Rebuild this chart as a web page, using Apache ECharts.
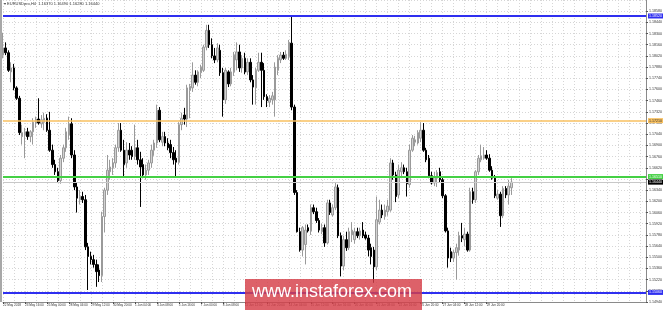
<!DOCTYPE html>
<html><head><meta charset="utf-8">
<script src="https://cdn.jsdelivr.net/npm/echarts@6/dist/echarts.min.js"></script>
<style>html,body{margin:0;padding:0;background:#fff}#c{width:665px;height:310px}</style>
</head><body><div id="c"></div>
<script>
const symbol = 'EURUSDpro,H4';
const tickLabels = ['22 May 2018','23 May 16:00','25 May 00:00','28 May 04:00','29 May 12:00','30 May 20:00','1 Jun 04:00','4 Jun 08:00','5 Jun 16:00','7 Jun 00:00','8 Jun 08:00','11 Jun 12:00','12 Jun 20:00','14 Jun 04:00','15 Jun 12:00','18 Jun 16:00','20 Jun 00:00','21 Jun 08:00','22 Jun 16:00','25 Jun 20:00','27 Jun 04:00','28 Jun 12:00','29 Jun 20:00','3 Jul 00:00'];
const totalSlots = 235;

const open = [
1.1803,1.1812,1.1806,1.1782,1.1787,1.1762,1.1749,1.1701,1.1703,1.1707,
1.1701,1.1707,1.1718,1.1723,1.1717,1.1719,1.1724,1.1709,1.1684,1.1666,
1.1657,1.1646,1.1674,1.1687,1.1703,1.1717,1.1678,1.1638,1.1622,1.1626,
1.1622,1.1563,1.1551,1.1547,1.1541,1.1534,1.1527,1.1601,1.1634,1.1657,
1.1662,1.1668,1.1687,1.1709,1.1684,1.1668,1.1684,1.1684,1.1676,1.1687,
1.1672,1.1666,1.1653,1.1659,1.1668,1.1684,1.1693,1.1734,1.1694,1.1701,
1.1693,1.1691,1.1681,1.1674,1.1669,1.1716,1.1728,1.1723,1.1759,1.1762,
1.1778,1.1769,1.1781,1.1784,1.1813,1.1834,1.1816,1.1802,1.1797,1.1809,
1.1781,1.1747,1.1782,1.1767,1.1782,1.1797,1.1807,1.1787,1.1799,1.1782,
1.1794,1.1772,1.1762,1.1784,1.1794,1.1784,1.1751,1.1744,1.1747,1.1747,
1.1784,1.1797,1.1803,1.1799,1.1801,1.1818,1.1738,1.1631,1.1582,1.1559,
1.1566,1.1587,1.1583,1.1612,1.1607,1.1596,1.1582,1.1587,1.1568,1.1618,
1.1603,1.1612,1.1637,1.1577,1.1539,1.1572,1.1562,1.1578,1.1572,1.1582,
1.1577,1.1584,1.1578,1.1574,1.1562,1.1559,1.1538,1.1594,1.1609,1.1601,
1.1607,1.1609,1.1668,1.1653,1.1628,1.1657,1.1662,1.1657,1.1641,1.1684,
1.1694,1.1693,1.1699,1.1709,1.1684,1.1674,1.1652,1.1643,1.1649,1.1657,
1.1647,1.1627,1.1583,1.1557,1.1549,1.1556,1.1559,1.1577,1.1572,1.1579,
1.1559,1.1632,1.1622,1.1657,1.1672,1.1674,1.1678,1.1674,1.1659,1.1649,
1.1624,1.1629,1.1602,1.1636,1.1628,1.1637];
const close = [
1.1812,1.1806,1.1784,1.1787,1.1762,1.1749,1.1706,1.1706,1.1707,1.1701,
1.1707,1.1719,1.1723,1.1718,1.1722,1.1724,1.1709,1.1684,1.1666,1.1657,
1.1646,1.1674,1.1687,1.1707,1.1717,1.1678,1.1638,1.1624,1.1626,1.1622,
1.1563,1.1551,1.1547,1.1541,1.1532,1.1527,1.1601,1.1634,1.1659,1.1663,
1.1668,1.1687,1.1709,1.1684,1.1666,1.1684,1.1678,1.1676,1.1687,1.1672,
1.1663,1.1653,1.1659,1.1668,1.1684,1.1693,1.1734,1.1697,1.1701,1.1693,
1.1687,1.1681,1.1672,1.1669,1.1716,1.1724,1.1723,1.1762,1.1764,1.1778,
1.1769,1.1782,1.1788,1.1813,1.1834,1.1816,1.1802,1.1797,1.1812,1.1781,
1.1747,1.1784,1.1767,1.1782,1.1803,1.1807,1.1787,1.1799,1.1782,1.1794,
1.1772,1.1763,1.1784,1.1794,1.1784,1.1751,1.1746,1.1749,1.1752,1.1788,
1.1799,1.1803,1.1799,1.1804,1.1819,1.1738,1.1631,1.1582,1.1559,1.1587,
1.1584,1.1583,1.1612,1.1607,1.1596,1.1584,1.1587,1.1568,1.1618,1.1606,
1.1612,1.1638,1.1577,1.1539,1.1572,1.1562,1.1582,1.1584,1.1582,1.1577,
1.1583,1.1577,1.1574,1.1559,1.1551,1.1538,1.1597,1.1609,1.1603,1.1609,
1.1614,1.1668,1.1653,1.1626,1.1659,1.1662,1.1657,1.1642,1.1684,1.1699,
1.1697,1.1706,1.1709,1.1684,1.1672,1.1652,1.1643,1.1651,1.1656,1.1647,
1.1627,1.1583,1.1549,1.1549,1.1556,1.1562,1.1577,1.1574,1.1579,1.1559,
1.1632,1.1622,1.1657,1.1674,1.1677,1.1678,1.1674,1.1659,1.1649,1.1627,
1.1629,1.1602,1.1636,1.1628,1.1639,1.1644];
const low = [
1.1799,1.1803,1.1782,1.1769,1.1759,1.1747,1.1703,1.1691,1.1674,1.1697,
1.1694,1.1691,1.1712,1.1716,1.1712,1.1709,1.1707,1.1682,1.1662,1.1653,
1.1643,1.1642,1.1669,1.1682,1.1697,1.1674,1.1634,1.1606,1.1616,1.1618,
1.1559,1.1509,1.1541,1.1537,1.1513,1.1519,1.1519,1.1581,1.1628,1.1647,
1.1653,1.1662,1.1682,1.1682,1.1651,1.1662,1.1672,1.1672,1.1672,1.1666,
1.1613,1.1649,1.1647,1.1653,1.1662,1.1677,1.1687,1.1694,1.1689,1.1689,
1.1684,1.1674,1.1666,1.1651,1.1666,1.1709,1.1716,1.1713,1.1724,1.1757,
1.1766,1.1764,1.1774,1.1782,1.1809,1.1812,1.1799,1.1793,1.1794,1.1777,
1.1726,1.1742,1.1763,1.1764,1.1777,1.1784,1.1782,1.1781,1.1779,1.1778,
1.1769,1.1741,1.1741,1.1782,1.1738,1.1747,1.1738,1.1738,1.1741,1.1726,
1.1778,1.1793,1.1797,1.1797,1.1797,1.1734,1.1628,1.1581,1.1557,1.1551,
1.1541,1.1581,1.1578,1.1604,1.1593,1.1581,1.1579,1.1563,1.1566,1.1603,
1.1601,1.1609,1.1574,1.1526,1.1534,1.1558,1.1559,1.1569,1.1567,1.1574,
1.1572,1.1574,1.1572,1.1551,1.1541,1.1518,1.1534,1.1591,1.1599,1.1597,
1.1602,1.1607,1.1647,1.1619,1.1624,1.1649,1.1654,1.1626,1.1637,1.1682,
1.1689,1.1691,1.1694,1.1682,1.1669,1.1649,1.1641,1.1639,1.1638,1.1644,
1.1624,1.1581,1.1537,1.1544,1.1544,1.1522,1.1552,1.1569,1.1564,1.1557,
1.1557,1.1617,1.1618,1.1653,1.1669,1.1672,1.1672,1.1657,1.1647,1.1624,
1.1622,1.1588,1.1599,1.1624,1.1616,1.1628];
const high = [
1.1831,1.1819,1.1809,1.1794,1.1792,1.1764,1.1752,1.1716,1.1712,1.1712,
1.1709,1.1724,1.1726,1.1749,1.1728,1.1731,1.1729,1.1732,1.1691,1.1672,
1.1662,1.1678,1.1691,1.1712,1.1726,1.1724,1.1684,1.1643,1.1634,1.1632,
1.1628,1.1568,1.1557,1.1553,1.1547,1.1541,1.1607,1.1637,1.1678,1.1672,
1.1674,1.1691,1.1718,1.1718,1.1697,1.1694,1.1693,1.1689,1.1716,1.1697,
1.1682,1.1674,1.1666,1.1672,1.1691,1.1697,1.1741,1.1738,1.1707,1.1707,
1.1699,1.1697,1.1688,1.1684,1.1719,1.1731,1.1737,1.1766,1.1767,1.1794,
1.1784,1.1784,1.1791,1.1816,1.1841,1.1841,1.1824,1.1812,1.1818,1.1816,
1.1787,1.1787,1.1784,1.1787,1.1807,1.1819,1.1816,1.1803,1.1806,1.1799,
1.1799,1.1778,1.1787,1.1806,1.1806,1.1793,1.1754,1.1753,1.1757,1.1794,
1.1803,1.1807,1.1807,1.1809,1.1822,1.1852,1.1741,1.1634,1.1587,1.1589,
1.1591,1.1591,1.1616,1.1616,1.1612,1.1599,1.1592,1.1591,1.1622,1.1622,
1.1616,1.1643,1.1641,1.1581,1.1577,1.1582,1.1587,1.1594,1.1587,1.1587,
1.1587,1.1594,1.1582,1.1578,1.1567,1.1563,1.1626,1.1622,1.1616,1.1616,
1.1622,1.1674,1.1672,1.1657,1.1666,1.1669,1.1666,1.1662,1.1691,1.1703,
1.1702,1.1709,1.1719,1.1718,1.1687,1.1678,1.1657,1.1657,1.1659,1.1662,
1.1651,1.1629,1.1587,1.1562,1.1559,1.1567,1.1582,1.1593,1.1587,1.1582,
1.1637,1.1637,1.1659,1.1678,1.1691,1.1688,1.1684,1.1679,1.1664,1.1653,
1.1634,1.1632,1.1639,1.1639,1.1647,1.1649];

const levelValues = [1.1852, 1.1721, 1.1651, 1.1506];
const levelColors = ['#2f2ff0', '#f8c060', '#44d044', '#2f2ff0'];
const levelWidths = [2, 1.5, 2, 2];

const FONT = '"Liberation Sans", sans-serif';
const last = open.length - 1;
const categories = Array.from({length: totalSlots}, (_, i) => String(i));
const candles = open.map((o, i) => [o, close[i], low[i], high[i]]);
const isLabel = (i) => i % 8 === 0 && i / 8 < tickLabels.length;

const boxLabel = (text, bg, fg) => ({show: true, position: 'end', distance: 2, formatter: text,
  backgroundColor: bg, color: fg, fontSize: 3.6, fontFamily: FONT, padding: [1, 1, 0, 1]});
const lineData = levelValues.map((v, k) => ({
  yAxis: v,
  lineStyle: {color: levelColors[k], width: levelWidths[k], type: 'solid'},
  label: boxLabel(v.toFixed(5), levelColors[k], k === 1 ? '#333' : '#fff')
}));
lineData.push({
  yAxis: close[last],
  lineStyle: {color: '#c8c8c8', width: 1, type: 'solid'},
  label: boxLabel(close[last].toFixed(5), '#000', '#fff')
});

const header = '\u25BE ' + symbol + '  ' + [open[last], high[last], low[last], close[last]].map(v => v.toFixed(5)).join(' ');

const chart = echarts.init(document.getElementById('c'), null, {renderer: 'canvas'});
chart.setOption({
  animation: false,
  backgroundColor: '#fff',
  grid: {left: 2, right: 15, top: 0, bottom: 8, show: false},
  xAxis: {
    type: 'category', data: categories, boundaryGap: false,
    axisLine: {show: true, lineStyle: {color: '#8a8a8a', width: 1}},
    axisTick: {show: true, length: 2, interval: (i) => isLabel(i), lineStyle: {color: '#555'}},
    axisLabel: {show: true, interval: (i) => isLabel(i), formatter: (v, i) => tickLabels[i / 8] || '',
      fontSize: 3.1, fontFamily: FONT, color: '#333', align: 'left', margin: 2,
      showMinLabel: true, showMaxLabel: false, hideOverlap: false},
    splitLine: {show: true, interval: (i) => i % 4 === 0, lineStyle: {color: '#d6d6d6', width: 1, type: [1, 2]}}
  },
  yAxis: {
    type: 'value', position: 'right', min: 1.1494, max: 1.1872, interval: 0.0014,
    axisLine: {show: true, lineStyle: {color: '#8a8a8a', width: 1}},
    axisTick: {show: true, length: 2, lineStyle: {color: '#555'}},
    axisLabel: {fontSize: 3.6, fontFamily: FONT, color: '#333', margin: 3,
      formatter: (v) => v.toFixed(5), showMaxLabel: false},
    splitLine: {show: true, lineStyle: {color: '#d6d6d6', width: 1, type: [1, 2]}}
  },
  series: [{
    type: 'candlestick', data: candles, barWidth: 2,
    itemStyle: {color: '#d2d2d2', color0: '#000', borderColor: '#9a9a9a', borderColor0: '#000', borderWidth: 1},
    markLine: {silent: true, symbol: 'none', animation: false, precision: 5, data: lineData}
  }],
  graphic: [
    {type: 'rect', shape: {x: 0, y: 0, width: 2, height: 302}, style: {fill: '#a8a8a8'}, z: 10},
    {type: 'text', x: 4, y: 2, style: {text: header, fill: '#333', font: '4px ' + FONT}, z: 10},
    {type: 'rect', shape: {x: 245, y: 279, width: 177, height: 31}, style: {fill: 'rgba(214,62,72,0.82)'}, z: 20},
    {type: 'text', x: 252, y: 283, style: {text: 'www.instaforex.com', fill: '#fff', font: '18px "Liberation Sans"'}, z: 21}
  ]
});
</script></body></html>
